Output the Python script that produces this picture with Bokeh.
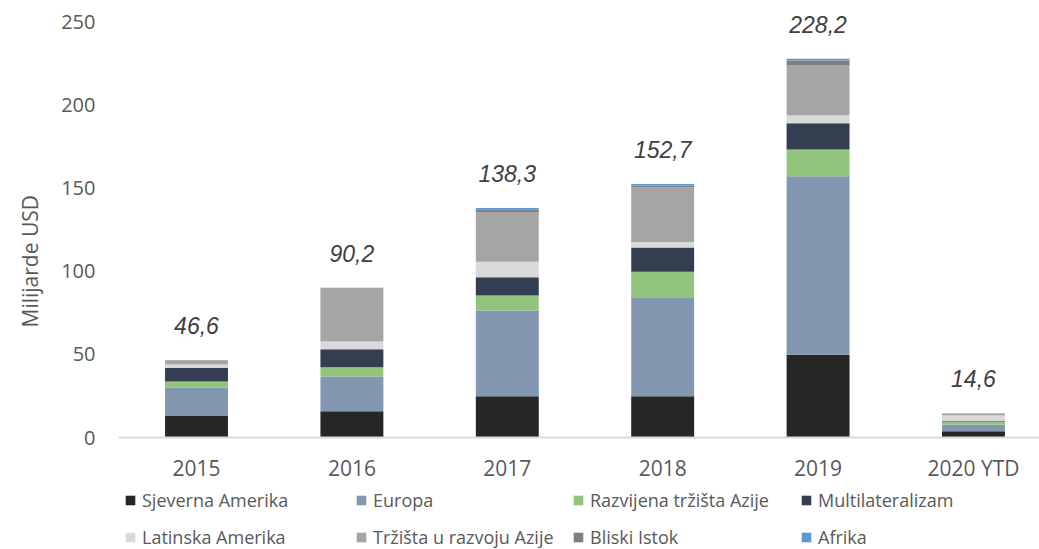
from bokeh.plotting import figure
from bokeh.models import ColumnDataSource, Range1d, FixedTicker, Legend, LegendItem, LabelSet, Title
from bokeh.layouts import column
from bokeh.embed import file_html
from bokeh.resources import INLINE
from bokeh.core.properties import value

categories = ["2015", "2016", "2017", "2018", "2019", "2020 YTD"]
series_names = ["Sjeverna Amerika", "Europa", "Razvijena tržišta Azije", "Multilateralizam",
                "Latinska Amerika", "Tržišta u razvoju Azije", "Bliski Istok", "Afrika"]
sjeverna_amerika = [13.2, 15.8, 24.8, 24.8, 49.9, 3.8]
europa = [16.7, 21.0, 51.7, 59.7, 107.4, 4.0]
razvijena_azija = [3.9, 5.5, 9.0, 15.3, 16.2, 1.8]
multilateralizam = [8.1, 10.8, 11.0, 14.6, 15.8, 0.3]
latinska_amerika = [2.0, 4.8, 9.3, 3.4, 4.8, 3.3]
razvoj_azija = [2.4, 32.1, 30.0, 32.9, 30.2, 1.2]
bliski_istok = [0.2, 0.0, 1.7, 1.0, 2.8, 0.1]
afrika = [0.1, 0.2, 0.8, 1.0, 1.1, 0.1]
totals = [46.6, 90.2, 138.3, 152.7, 228.2, 14.6]
total_labels = ["46,6", "90,2", "138,3", "152,7", "228,2", "14,6"]
y_ticks = [0, 50, 100, 150, 200, 250]
y_title = "Milijarde USD"

colors = ["#262626", "#8497B0", "#93C47D", "#333F50", "#D9D9D9", "#A5A5A5", "#7F7F7F", "#5B9BD5"]
keys = ["s0", "s1", "s2", "s3", "s4", "s5", "s6", "s7"]
xs = list(range(len(categories)))

data = dict(x=xs, total=totals, label=total_labels)
for k, arr in zip(keys, [sjeverna_amerika, europa, razvijena_azija, multilateralizam,
                         latinska_amerika, razvoj_azija, bliski_istok, afrika]):
    data[k] = arr
source = ColumnDataSource(data)

FONT = "Open Sans"
TXT = "#595959"

p = figure(width=1039, height=484, output_backend="svg", toolbar_location=None,
           x_range=Range1d(-0.502, 5.425), y_range=Range1d(0, 262.02),
           min_border_left=118, min_border_right=0, min_border_top=2, min_border_bottom=46)
p.outline_line_color = None
p.xgrid.grid_line_color = None
p.ygrid.grid_line_color = None

renderers = p.vbar_stack(keys, x="x", width=0.405, source=source, color=colors, line_width=0)

labels = LabelSet(x="x", y="total", text="label", source=source, text_align="center",
                  text_baseline="bottom", y_offset=26, text_font=value("Liberation Sans"),
                  text_font_style="italic", text_font_size="23px", text_color="#404040")
p.add_layout(labels)

p.xaxis.ticker = FixedTicker(ticks=xs)
p.xaxis.major_label_overrides = {i: c for i, c in enumerate(categories)}
p.xaxis.axis_line_color = "#D9D9D9"
p.xaxis.axis_line_width = 2
p.xaxis.major_tick_line_color = None
p.xaxis.minor_tick_line_color = None
p.xaxis.major_tick_out = 0
p.xaxis.major_tick_in = 0
p.xaxis.minor_tick_out = 0
p.xaxis.major_label_standoff = 16
p.xaxis.major_label_text_font = FONT
p.xaxis.major_label_text_font_size = "21px"
p.xaxis.major_label_text_color = TXT

p.yaxis.ticker = FixedTicker(ticks=y_ticks)
p.yaxis.axis_line_color = None
p.yaxis.major_tick_line_color = None
p.yaxis.minor_tick_line_color = None
p.yaxis.major_tick_out = 0
p.yaxis.major_tick_in = 0
p.yaxis.minor_tick_out = 0
p.yaxis.major_label_standoff = 23
p.yaxis.major_label_text_font = FONT
p.yaxis.major_label_text_font_size = "20px"
p.yaxis.major_label_text_color = TXT

ytitle = Title(text=y_title, align="left", offset=110, vertical_align="top", standoff=26,
               text_font=FONT, text_font_size="21px", text_font_style="normal", text_color=TXT)
p.add_layout(ytitle, "left")

# legend strip below the chart
lf = figure(width=1039, height=65, output_backend="svg", toolbar_location=None,
            x_range=Range1d(-0.502, 5.425), y_range=Range1d(0, 1),
            x_axis_location=None, y_axis_location=None,
            min_border_left=118, min_border_right=0, min_border_top=0, min_border_bottom=0)
lf.outline_line_color = None
lf.xgrid.grid_line_color = None
lf.ygrid.grid_line_color = None
lrend = lf.vbar_stack(keys, x="x", width=0.405, source=source, color=colors, line_width=0)
for r in lrend:
    r.visible = False

columns = [(0, 4), (1, 5), (2, 6), (3, 7)]
col_x = [6, 237, 454, 682]
for (a, b), cx in zip(columns, col_x):
    items = [LegendItem(label=series_names[a], renderers=[lrend[a]]),
             LegendItem(label=series_names[b], renderers=[lrend[b]])]
    lg = Legend(items=items, location=(cx, 0), orientation="vertical",
                glyph_width=12, glyph_height=12, label_standoff=6, spacing=13,
                padding=0, margin=0, border_line_color=None, background_fill_alpha=0,
                inactive_fill_alpha=0, click_policy="none",
                label_text_font=FONT, label_text_font_size="18px", label_text_color=TXT)
    lf.add_layout(lg, "center")

layout = column(p, lf, spacing=0)
open("out.html", "w").write(file_html(layout, INLINE))
